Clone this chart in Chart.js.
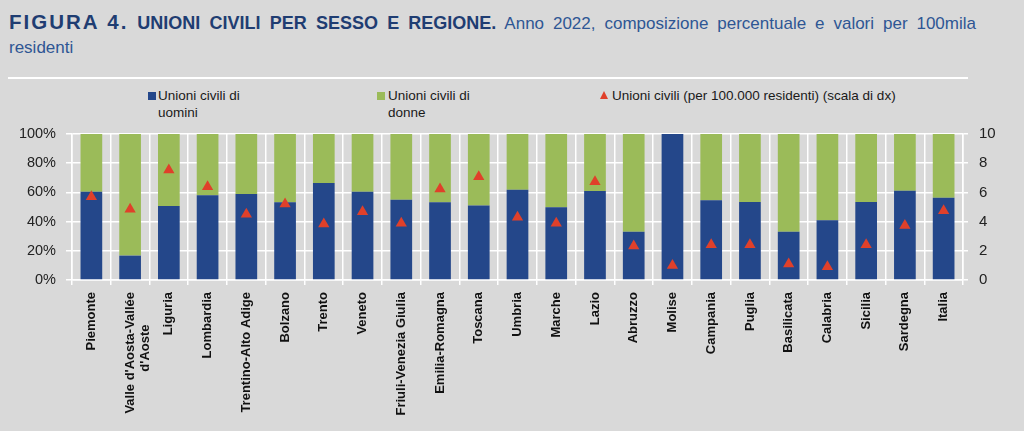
<!DOCTYPE html>
<html>
<head>
<meta charset="utf-8">
<script src="https://cdn.jsdelivr.net/npm/chart.js@4"></script>
<style>
  body { margin: 0; background: #d9d9d9; width: 1024px; height: 431px; overflow: hidden; position: relative; font-family: "Liberation Sans", Arial, sans-serif; }
  #title { position: absolute; left: 9px; top: 10px; width: 967px; font-size: 17px; line-height: 24px; color: #2e5694; text-align: justify; text-align-last: left; }
  #title .fig { display: inline-block; font-weight: bold; font-size: 20.5px; letter-spacing: 2px; color: #1f3d72; }
  #title .bold { font-weight: bold; font-size: 18px; color: #1f3d72; }
  #sep { position: absolute; left: 8px; top: 77px; width: 960px; height: 2px; background: #fff; }
  .lg { position: absolute; font-size: 13.5px; line-height: 17px; color: #1a1a1a; }
  .sq { position: absolute; width: 8px; height: 8px; }
  #tri { position: absolute; left: 600px; top: 91px; width: 0; height: 0; border-left: 4.5px solid transparent; border-right: 4.5px solid transparent; border-bottom: 8px solid #e0402a; }
  #wrap { position: absolute; left: 0; top: 120px; width: 1024px; height: 311px; }
</style>
</head>
<body>
<div id="title"><span class="fig">FIGURA&nbsp;4.</span> <span class="bold">UNIONI CIVILI PER SESSO E REGIONE.</span> Anno 2022, composizione percentuale e valori per 100mila residenti</div>
<div id="sep"></div>

<div class="sq" style="left:148px;top:92px;background:#24478a"></div>
<div class="lg" style="left:158px;top:87px">Unioni civili di<br>uomini</div>
<div class="sq" style="left:377px;top:92px;background:#9bbb59"></div>
<div class="lg" style="left:388px;top:87px">Unioni civili di<br>donne</div>
<div id="tri"></div>
<div class="lg" style="left:612px;top:87px">Unioni civili (per 100.000 residenti) (scala di dx)</div>

<div id="wrap"><canvas id="chart"></canvas></div>

<script>
// regioni
const regions = [
  'Piemonte', ['Valle d\'Aosta-Vallée', 'd\'Aoste' + '\u00a0'.repeat(9)], 'Liguria', 'Lombardia',
  'Trentino-Alto Adige', 'Bolzano', 'Trento', 'Veneto', 'Friuli-Venezia Giulia',
  'Emilia-Romagna', 'Toscana', 'Umbria', 'Marche', 'Lazio', 'Abruzzo', 'Molise',
  'Campania', 'Puglia', 'Basilicata', 'Calabria', 'Sicilia', 'Sardegna', 'Italia'
];

// quota % unioni di uomini
const men = [60.5, 16.7, 50.7, 58.0, 58.9, 53.2, 66.4, 60.5, 55.0, 53.2, 51.1, 61.8,
  49.8, 61.0, 33.0, 100, 54.6, 53.4, 33.0, 40.9, 53.4, 61.2, 56.4];

// quota % unioni di donne
const women = [39.5, 83.3, 49.3, 42.0, 41.1, 46.8, 33.6, 39.5, 45.0, 46.8, 48.9, 38.2,
  50.2, 39.0, 67.0, 0, 45.4, 46.6, 67.0, 59.1, 46.6, 38.8, 43.6];

// unioni civili per 100.000 residenti (scala di dx)
const per100k = [5.7, 4.84, 7.53, 6.39, 4.5, 5.2, 3.84, 4.68, 3.88, 6.23, 7.08, 4.29,
  3.88, 6.73, 2.33, 1.0, 2.42, 2.42, 1.1, 0.91, 2.42, 3.74, 4.75];

const leftTicks = [0, 20, 40, 60, 80, 100];
const rightTicks = [0, 2, 4, 6, 8, 10];

const ctx = document.getElementById('chart').getContext('2d');

// niente padding extra dalle etichette degli assi verticali
const noPad = function (width) {
  return function (scale) {
    scale.width = width;
    scale.paddingTop = 0;
    scale.paddingBottom = 0;
  };
};

new Chart(ctx, {
  type: 'bar',
  data: {
    labels: regions,
    datasets: [
      {
        type: 'line',
        label: 'Unioni civili (per 100.000 residenti) (scala di dx)',
        data: per100k,
        yAxisID: 'y1',
        showLine: false,
        pointStyle: 'triangle',
        pointRadius: 6.5,
        backgroundColor: '#e0402a',
        borderColor: '#e0402a',
        borderWidth: 0,
        order: 0
      },
      {
        label: 'Unioni civili di uomini',
        data: men,
        backgroundColor: '#24478a',
        barPercentage: 0.56,
        categoryPercentage: 1,
        order: 1
      },
      {
        label: 'Unioni civili di donne',
        data: women,
        backgroundColor: '#9bbb59',
        barPercentage: 0.56,
        categoryPercentage: 1,
        order: 1
      }
    ]
  },
  options: {
    responsive: true,
    maintainAspectRatio: false,
    animation: false,
    layout: { padding: { top: 14, left: 0, right: 0, bottom: 0 } },
    plugins: {
      legend: { display: false },
      tooltip: { enabled: false }
    },
    scales: {
      x: {
        stacked: true,
        grid: { color: '#ffffff', lineWidth: 1.5, offset: true, tickLength: 5 },
        border: { color: '#ffffff', width: 1.5 },
        ticks: {
          autoSkip: false,
          maxRotation: 90,
          minRotation: 90,
          padding: 7,
          color: '#111',
          font: { family: '"Liberation Sans", Arial, sans-serif', size: 13, weight: 'bold' }
        },
        afterFit: function (scale) { scale.height = 151; }
      },
      y: {
        stacked: true,
        min: 0,
        max: 100,
        afterBuildTicks: function (scale) { scale.ticks = leftTicks.map(v => ({ value: v })); },
        grid: { color: '#ffffff', lineWidth: 1.5, tickLength: 6 },
        border: { color: '#ffffff', width: 1.5 },
        ticks: {
          padding: 10,
          color: '#222',
          font: { family: '"Liberation Sans", Arial, sans-serif', size: 14.5 },
          callback: v => v + '%'
        },
        afterFit: noPad(72)
      },
      y1: {
        position: 'right',
        min: 0,
        max: 10,
        afterBuildTicks: function (scale) { scale.ticks = rightTicks.map(v => ({ value: v })); },
        grid: { drawOnChartArea: false, color: '#ffffff', lineWidth: 1.5, tickLength: 5 },
        border: { color: '#ffffff', width: 1.5 },
        ticks: {
          padding: 11,
          color: '#222',
          font: { family: '"Liberation Sans", Arial, sans-serif', size: 15 }
        },
        afterFit: noPad(61)
      }
    }
  }
});
</script>
</body>
</html>
